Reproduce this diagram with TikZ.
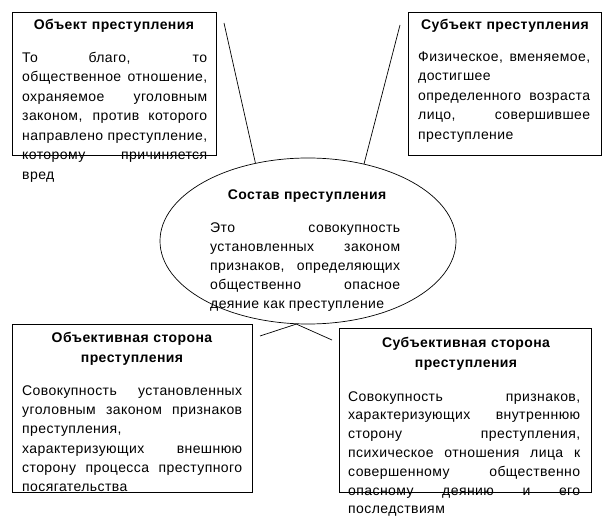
\documentclass[tikz,border=0pt]{standalone}
\usepackage{fontspec}
\setmainfont{Liberation Sans}[LetterSpace=3]
\usetikzlibrary{shapes.geometric}
\hyphenpenalty=10000
\exhyphenpenalty=10000
\tolerance=10000
\hbadness=10000
\tikzset{
  frame/.style={draw,line width=0.7pt,anchor=north west,inner sep=0pt},
  oval/.style={draw,ellipse,line width=0.7pt,inner sep=0pt,minimum width=296pt,minimum height=166pt},
  ttl/.style={font=\bfseries\fontsize{14}{19.5}\selectfont,align=center,text width=230pt,inner sep=0pt,anchor=base},
  body/.style={font=\fontsize{14}{#1}\selectfont,align=justify,inner sep=0pt,anchor=base west},
  body/.default=19.5,
  link/.style={line width=0.7pt},
}
\begin{document}
\begin{tikzpicture}[x=1pt,y=-1pt]
  \useasboundingbox (0,0) rectangle (613,518);
  \node[frame,minimum width=204pt,minimum height=143pt] (obj) at (12,12) {};
  \node[ttl] (obj-ttl) at (114,30) {Объект преступления};
  \node[body,text width=185pt] (obj-txt) at (22,62.5) {То благо, то\linebreak общественное отношение,\linebreak охраняемое уголовным\linebreak законом, против которого\linebreak направлено преступление,\linebreak которому причиняется\linebreak вред};
  \node[frame,minimum width=193pt,minimum height=143pt] (sub) at (408,12) {};
  \node[ttl] (sub-ttl) at (505,30) {Субъект преступления};
  \node[body,text width=172pt] (sub-txt) at (418,61.5) {Физическое, вменяемое,\linebreak достигшее\\ определенного возраста\linebreak лицо, совершившее\linebreak преступление};
  \node[oval] (sostav) at (308,241) {};
  \node[ttl] (sostav-ttl) at (307,200) {Состав преступления};
  \node[body=19,text width=190pt] (sostav-txt) at (210,232.5) {Это совокупность\linebreak установленных законом\linebreak признаков, определяющих\linebreak общественно опасное\linebreak деяние как преступление};
  \node[frame,minimum width=240pt,minimum height=168pt] (objside) at (12,324) {};
  \node[ttl] (objside-ttl) at (132,343) {Объективная сторона\\ преступления};
  \node[body=19.2,text width=220pt] (objside-txt) at (22,395.5) {Совокупность установленных\linebreak уголовным законом признаков\linebreak преступления,\\ характеризующих внешнюю\linebreak сторону процесса преступного\linebreak посягательства};
  \node[frame,minimum width=252pt,minimum height=164pt] (subside) at (339,328) {};
  \node[ttl] (subside-ttl) at (466,348) {Субъективная сторона\\ преступления};
  \node[body=18.8,text width=232pt] (subside-txt) at (348,401) {Совокупность признаков,\linebreak характеризующих внутреннюю\linebreak сторону преступления,\linebreak психическое отношения лица к\linebreak совершенному общественно\linebreak опасному деянию и его\linebreak последствиям};
  \coordinate (obj-end) at (224,23);
  \coordinate (sub-end) at (400,25);
  \coordinate (objside-end) at (260,336);
  \coordinate (subside-end) at (332,340);
  \draw[link] (obj-end) -- (sostav.124);
  \draw[link] (sub-end) -- (sostav.54);
  \foreach \e in {objside-end,subside-end} \draw[link] (sostav.262) -- (\e);
\end{tikzpicture}
\end{document}
